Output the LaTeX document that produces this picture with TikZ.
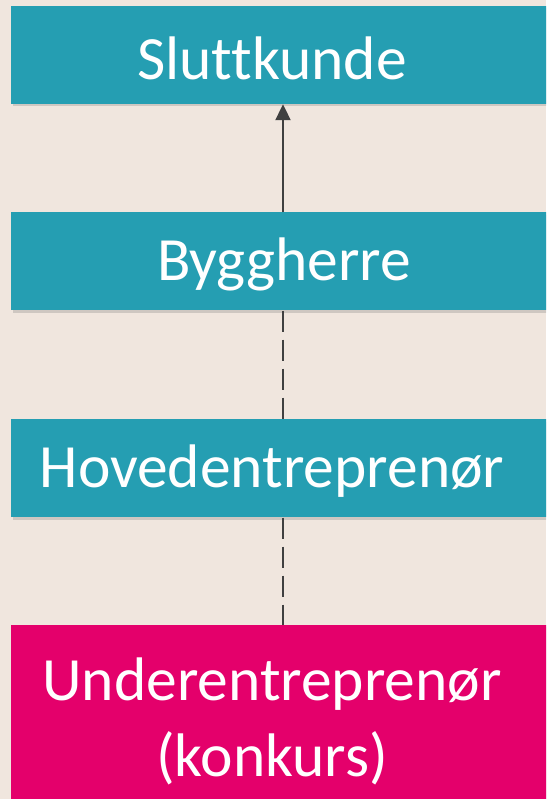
\documentclass[tikz,border=0pt]{standalone}
\usepackage{fontspec}
\setmainfont{Carlito}[Ligatures=NoCommon]
\usetikzlibrary{arrows.meta,shadows}

\definecolor{boxteal}{HTML}{259EB2}
\definecolor{boxpink}{HTML}{E4006B}
\definecolor{bgbeige}{HTML}{F0E6DE}
\definecolor{linegray}{HTML}{404040}

\begin{document}
\begin{tikzpicture}[x=1pt, y=1pt]
  \tikzset{role node/.style={rectangle,fill=boxteal,inner sep=0pt,
      minimum width=544pt,minimum height=98pt,
      drop shadow={shadow xshift=1.5pt,shadow yshift=-2.5pt,opacity=.3}}}
  \tikzset{bust node/.style={role node,fill=boxpink,minimum height=186pt}}
  \tikzset{every label/.style={text=white,align=center,xshift=-11pt,yshift=-3pt,
      font=\fontsize{61.5}{76}\selectfont}}
  \tikzset{link/.style={draw=linegray,line width=2pt}}

  \path[use as bounding box,fill=bgbeige] (0,0) rectangle (546,799);
  \clip (0,0) rectangle (546,799);

  \path
    (283, 744)   node[role node,label=center:Sluttkunde](slutt){}
    (283, 537.5) node[role node,label={[xshift=12pt]center:Byggherre}](bygg){}
    (283, 330.5) node[role node,label=center:Hovedentreprenør](hoved){}
    (283, 81)    node[bust node,label={center:{Underentreprenør\\(konkurs)}}](under){}
  ;

  \draw[link,-{Triangle[width=15pt,length=16pt]}] (bygg) -- (slutt);
  \draw[link,dash pattern=on 21pt off 8pt] (bygg) -- (hoved);
  \draw[link,dash pattern=on 21pt off 8pt] (hoved) -- (under);

\end{tikzpicture}
\end{document}
